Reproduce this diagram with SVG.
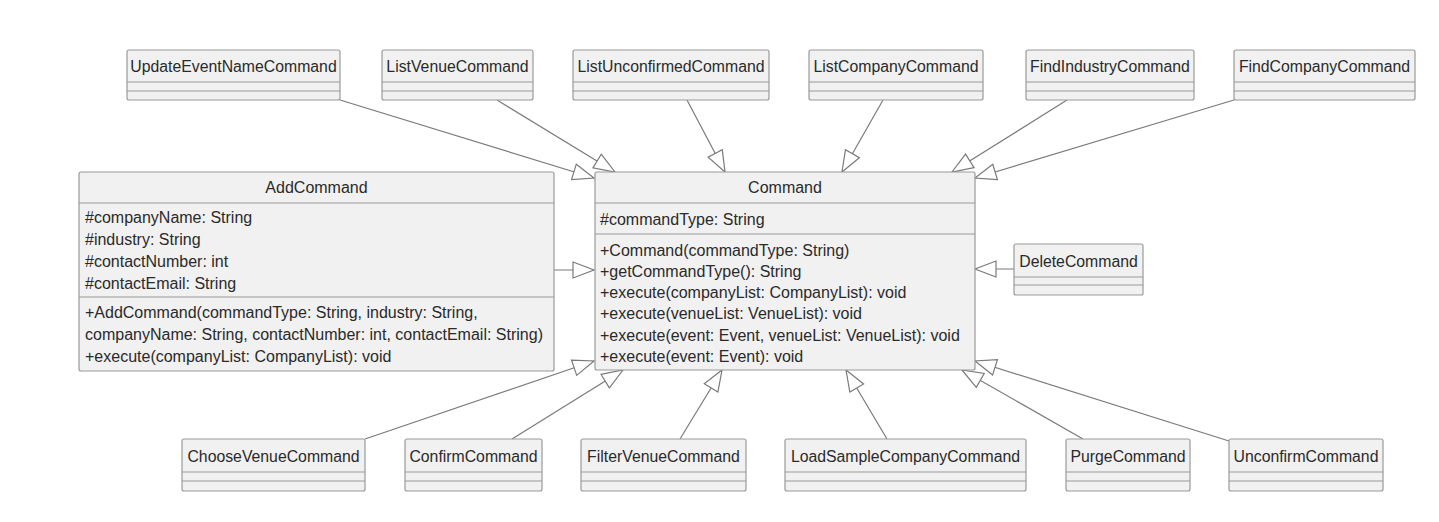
<svg xmlns="http://www.w3.org/2000/svg" width="1439" height="522" viewBox="0 0 1439 522">
<style>
.box{fill:#f1f1f1;stroke:#9a9a9a;stroke-width:1.2}
.div{stroke:#9a9a9a;stroke-width:1.2}
.t{font-family:"Liberation Sans",Arial,sans-serif;font-size:16px;fill:#2a2a2a}
.n{font-size:15.8px}
.c{text-anchor:middle}
.edge{stroke:#7a7a7a;stroke-width:1.2;fill:none;marker-end:url(#gen)}
</style>
<defs>
<marker id="gen" markerUnits="userSpaceOnUse" markerWidth="24" markerHeight="20" viewBox="0 0 24 20" refX="22" refY="10" orient="auto">
<path d="M1,2 L22,10 L1,18 Z" fill="#ffffff" stroke="#7a7a7a" stroke-width="1.2"/>
</marker>
</defs>
<rect width="1439" height="522" fill="#ffffff"/>

<g id="connectors">
<line class="edge" x1="340" y1="100" x2="594" y2="178"/>
<line class="edge" x1="497" y1="100" x2="615" y2="172"/>
<line class="edge" x1="687" y1="100" x2="725" y2="172"/>
<line class="edge" x1="883" y1="100" x2="842" y2="172"/>
<line class="edge" x1="1067" y1="100" x2="952" y2="172"/>
<line class="edge" x1="1234" y1="100" x2="975" y2="178"/>
<line class="edge" x1="554" y1="270" x2="594" y2="270"/>
<line class="edge" x1="1014" y1="269" x2="975" y2="269"/>
<line class="edge" x1="365" y1="439" x2="594" y2="361"/>
<line class="edge" x1="512" y1="439" x2="623" y2="370"/>
<line class="edge" x1="680" y1="439" x2="722" y2="370"/>
<line class="edge" x1="887" y1="439" x2="846" y2="370"/>
<line class="edge" x1="1083" y1="439" x2="962" y2="370"/>
<line class="edge" x1="1229" y1="441" x2="975" y2="361"/>
</g>

<g id="UpdateEventNameCommand">
<rect class="box" x="127" y="50" width="213" height="50" rx="2"/>
<line class="div" x1="127" y1="82" x2="340" y2="82"/><line class="div" x1="127" y1="91" x2="340" y2="91"/>
<text class="t n c" x="233.5" y="72">UpdateEventNameCommand</text>
</g>
<g id="ListVenueCommand">
<rect class="box" x="382" y="50" width="151" height="50" rx="2"/>
<line class="div" x1="382" y1="82" x2="533" y2="82"/><line class="div" x1="382" y1="91" x2="533" y2="91"/>
<text class="t n c" x="457.5" y="72">ListVenueCommand</text>
</g>
<g id="ListUnconfirmedCommand">
<rect class="box" x="573" y="50" width="196" height="50" rx="2"/>
<line class="div" x1="573" y1="82" x2="769" y2="82"/><line class="div" x1="573" y1="91" x2="769" y2="91"/>
<text class="t n c" x="671" y="72">ListUnconfirmedCommand</text>
</g>
<g id="ListCompanyCommand">
<rect class="box" x="809" y="50" width="174" height="50" rx="2"/>
<line class="div" x1="809" y1="82" x2="983" y2="82"/><line class="div" x1="809" y1="91" x2="983" y2="91"/>
<text class="t n c" x="896" y="72">ListCompanyCommand</text>
</g>
<g id="FindIndustryCommand">
<rect class="box" x="1026" y="50" width="168" height="50" rx="2"/>
<line class="div" x1="1026" y1="82" x2="1194" y2="82"/><line class="div" x1="1026" y1="91" x2="1194" y2="91"/>
<text class="t n c" x="1110" y="72">FindIndustryCommand</text>
</g>
<g id="FindCompanyCommand">
<rect class="box" x="1234" y="50" width="181" height="50" rx="2"/>
<line class="div" x1="1234" y1="82" x2="1415" y2="82"/><line class="div" x1="1234" y1="91" x2="1415" y2="91"/>
<text class="t n c" x="1324.5" y="72">FindCompanyCommand</text>
</g>

<g id="AddCommand">
<rect class="box" x="79" y="172" width="475" height="199" rx="2"/>
<line class="div" x1="79" y1="203" x2="554" y2="203"/><line class="div" x1="79" y1="297" x2="554" y2="297"/>
<text class="t c" x="316.5" y="193">AddCommand</text>
<text class="t" x="85" y="223">#companyName: String</text>
<text class="t" x="85" y="245">#industry: String</text>
<text class="t" x="85" y="267">#contactNumber: int</text>
<text class="t" x="85" y="289">#contactEmail: String</text>
<text class="t" x="85" y="318">+AddCommand(commandType: String, industry: String,</text>
<text class="t" x="85" y="340">companyName: String, contactNumber: int, contactEmail: String)</text>
<text class="t" x="85" y="362">+execute(companyList: CompanyList): void</text>
</g>

<g id="Command">
<rect class="box" x="595" y="172" width="380" height="198" rx="2"/>
<line class="div" x1="595" y1="203" x2="975" y2="203"/><line class="div" x1="595" y1="234" x2="975" y2="234"/>
<text class="t c" x="785" y="193">Command</text>
<text class="t" x="600" y="225">#commandType: String</text>
<text class="t" x="600" y="256">+Command(commandType: String)</text>
<text class="t" x="600" y="277">+getCommandType(): String</text>
<text class="t" x="600" y="298">+execute(companyList: CompanyList): void</text>
<text class="t" x="600" y="319">+execute(venueList: VenueList): void</text>
<text class="t" x="600" y="341">+execute(event: Event, venueList: VenueList): void</text>
<text class="t" x="600" y="362">+execute(event: Event): void</text>
</g>

<g id="DeleteCommand">
<rect class="box" x="1014" y="244" width="129" height="51" rx="2"/>
<line class="div" x1="1014" y1="277" x2="1143" y2="277"/><line class="div" x1="1014" y1="285" x2="1143" y2="285"/>
<text class="t n c" x="1078.5" y="267">DeleteCommand</text>
</g>

<g id="ChooseVenueCommand">
<rect class="box" x="182" y="439" width="183" height="52" rx="2"/>
<line class="div" x1="182" y1="472" x2="365" y2="472"/><line class="div" x1="182" y1="481" x2="365" y2="481"/>
<text class="t n c" x="273.5" y="462">ChooseVenueCommand</text>
</g>
<g id="ConfirmCommand">
<rect class="box" x="405" y="439" width="137" height="52" rx="2"/>
<line class="div" x1="405" y1="472" x2="542" y2="472"/><line class="div" x1="405" y1="481" x2="542" y2="481"/>
<text class="t n c" x="473.5" y="462">ConfirmCommand</text>
</g>
<g id="FilterVenueCommand">
<rect class="box" x="581" y="439" width="165" height="52" rx="2"/>
<line class="div" x1="581" y1="472" x2="746" y2="472"/><line class="div" x1="581" y1="481" x2="746" y2="481"/>
<text class="t n c" x="663.5" y="462">FilterVenueCommand</text>
</g>
<g id="LoadSampleCompanyCommand">
<rect class="box" x="785" y="439" width="241" height="52" rx="2"/>
<line class="div" x1="785" y1="472" x2="1026" y2="472"/><line class="div" x1="785" y1="481" x2="1026" y2="481"/>
<text class="t n c" x="905.5" y="462">LoadSampleCompanyCommand</text>
</g>
<g id="PurgeCommand">
<rect class="box" x="1066" y="439" width="124" height="52" rx="2"/>
<line class="div" x1="1066" y1="472" x2="1190" y2="472"/><line class="div" x1="1066" y1="481" x2="1190" y2="481"/>
<text class="t n c" x="1128" y="462">PurgeCommand</text>
</g>
<g id="UnconfirmCommand">
<rect class="box" x="1229" y="439" width="154" height="52" rx="2"/>
<line class="div" x1="1229" y1="472" x2="1383" y2="472"/><line class="div" x1="1229" y1="481" x2="1383" y2="481"/>
<text class="t n c" x="1306" y="462">UnconfirmCommand</text>
</g>
</svg>
